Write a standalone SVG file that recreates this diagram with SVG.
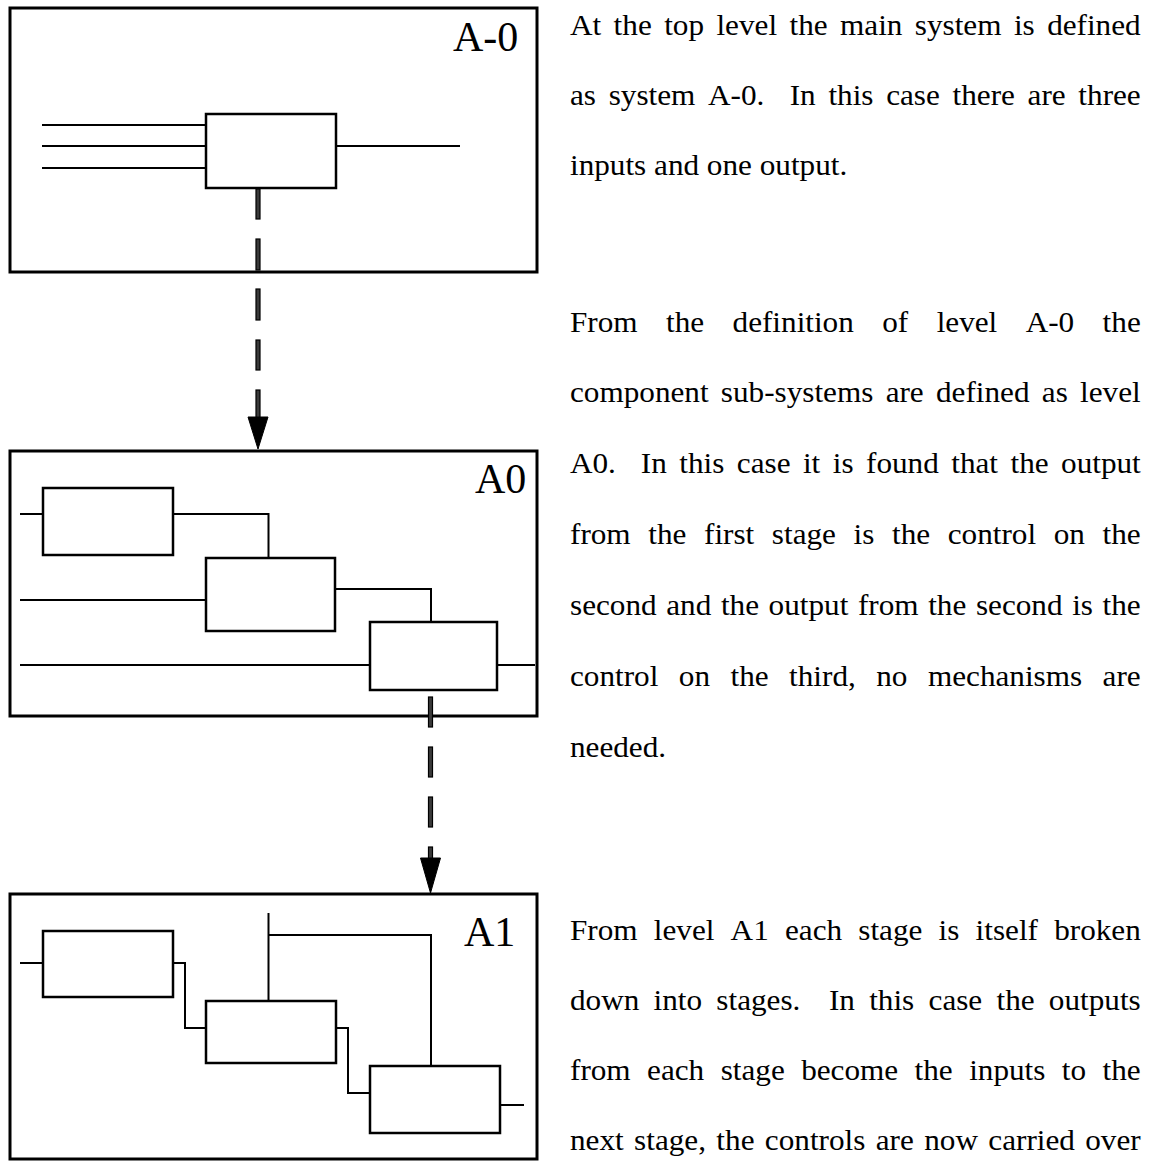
<svg xmlns="http://www.w3.org/2000/svg" width="1158" height="1171" viewBox="0 0 1158 1171">
  <style>
    .frame { fill: none; stroke: #000; stroke-width: 3; }
    .box { fill: #fff; stroke: #000; stroke-width: 2.5; }
    .wire { fill: none; stroke: #000; stroke-width: 2; }
    .dash { fill: #3a3a3a; stroke: #000; stroke-width: 1.2; }
    .head { fill: #000; stroke: #000; stroke-width: 1; stroke-linejoin: miter; }
    .label { font-family: "Liberation Serif", "Times New Roman", serif; font-size: 42px; fill: #000; }
    .body { font-family: "Liberation Serif", "Times New Roman", serif; font-size: 30px; fill: #000;
            white-space: pre; font-kerning: none; font-variant-ligatures: none; }
  </style>
  <rect width="1158" height="1171" fill="#fff"/>

  <!-- Level A-0: whole system, three inputs and one output -->
  <g id="level-a-0">
    <rect class="frame" x="10" y="8" width="527" height="264"/>
    <text class="label" x="453" y="51">A-0</text>
    <line class="wire" x1="42" y1="125" x2="206" y2="125"/>
    <line class="wire" x1="42" y1="146" x2="206" y2="146"/>
    <line class="wire" x1="42" y1="168" x2="206" y2="168"/>
    <line class="wire" x1="336" y1="146" x2="460" y2="146"/>
    <rect id="a-0-system" class="box" x="206" y="114" width="130" height="74"/>
  </g>

  <!-- Level A0: three sub-systems, each output controls the next -->
  <g id="level-a0">
    <rect class="frame" x="10" y="451" width="527" height="265"/>
    <text class="label" x="475" y="493">A0</text>
    <polyline class="wire" points="20,514 43,514"/>
    <polyline class="wire" points="173,514 268.5,514 268.5,558"/>
    <polyline class="wire" points="20,600 206,600"/>
    <polyline class="wire" points="335,589 431,589 431,622"/>
    <polyline class="wire" points="20,665 370,665"/>
    <polyline class="wire" points="497,665 535,665"/>
    <rect id="a0-stage-1" class="box" x="43" y="488" width="130" height="67"/>
    <rect id="a0-stage-2" class="box" x="206" y="558" width="129" height="73"/>
    <rect id="a0-stage-3" class="box" x="370" y="622" width="127" height="68"/>
  </g>

  <!-- Level A1: outputs feed the next stage, controls carried over -->
  <g id="level-a1">
    <rect class="frame" x="10" y="894" width="527" height="265"/>
    <text class="label" x="464" y="946">A1</text>
    <polyline class="wire" points="20,963 43,963"/>
    <polyline class="wire" points="173,963 185,963 185,1028 206,1028"/>
    <polyline class="wire" points="336,1028 348,1028 348,1093 370,1093"/>
    <polyline class="wire" points="268.5,913 268.5,1001"/>
    <polyline class="wire" points="268.5,935 431,935 431,1066"/>
    <polyline class="wire" points="500,1105 524,1105"/>
    <rect id="a1-stage-1" class="box" x="43" y="931" width="130" height="66"/>
    <rect id="a1-stage-2" class="box" x="206" y="1001" width="130" height="62"/>
    <rect id="a1-stage-3" class="box" x="370" y="1066" width="130" height="67"/>
  </g>

  <!-- Decomposition connectors between levels -->
  <g id="connectors">
    <g id="a-0-to-a0">
      <rect class="dash" x="256" y="189" width="4" height="30"/>
      <rect class="dash" x="256" y="239" width="4" height="31"/>
      <rect class="dash" x="256" y="289" width="4" height="31"/>
      <rect class="dash" x="256" y="340" width="4" height="30"/>
      <rect class="dash" x="256" y="390" width="4" height="28"/>
      <polygon class="head" points="248,417 268,417 258,449"/>
    </g>
    <g id="a0-to-a1">
      <rect class="dash" x="428.5" y="697" width="4" height="30"/>
      <rect class="dash" x="428.5" y="747" width="4" height="30"/>
      <rect class="dash" x="428.5" y="797" width="4" height="30"/>
      <rect class="dash" x="428.5" y="847" width="4" height="12"/>
      <polygon class="head" points="420.5,858 440.5,858 430.5,893"/>
    </g>
  </g>

  <!-- Explanatory text: justified lines, word-spacing set per line -->
  <g id="text-a-0">
    <text class="body" transform="translate(570 35) scale(1.04 1)" word-spacing="4.46">At the top level the main system is defined</text>
    <text class="body" transform="translate(570 105) scale(1.04 1)" word-spacing="4.72">as system A-0.  In this case there are three</text>
    <text class="body" transform="translate(570 175) scale(1.04 1)">inputs and one output.</text>
  </g>
  <g id="text-a0">
    <text class="body" transform="translate(570 332) scale(1.04 1)" word-spacing="19.84">From the definition of level A-0 the</text>
    <text class="body" transform="translate(570 402) scale(1.04 1)" word-spacing="4.32">component sub-systems are defined as level</text>
    <text class="body" transform="translate(570 473) scale(1.04 1)" word-spacing="4.49">A0.  In this case it is found that the output</text>
    <text class="body" transform="translate(570 544) scale(1.04 1)" word-spacing="9.46">from the first stage is the control on the</text>
    <text class="body" transform="translate(570 615) scale(1.04 1)" word-spacing="1.76">second and the output from the second is the</text>
    <text class="body" transform="translate(570 686) scale(1.04 1)" word-spacing="12.2">control on the third, no mechanisms are</text>
    <text class="body" transform="translate(570 757) scale(1.04 1)">needed.</text>
  </g>
  <g id="text-a1">
    <text class="body" transform="translate(570 940) scale(1.04 1)" word-spacing="8.09">From level A1 each stage is itself broken</text>
    <text class="body" transform="translate(570 1010) scale(1.04 1)" word-spacing="6.23">down into stages.  In this case the outputs</text>
    <text class="body" transform="translate(570 1080) scale(1.04 1)" word-spacing="8.32">from each stage become the inputs to the</text>
    <text class="body" transform="translate(570 1150) scale(1.04 1)" word-spacing="2.5">next stage, the controls are now carried over</text>
  </g>
</svg>
